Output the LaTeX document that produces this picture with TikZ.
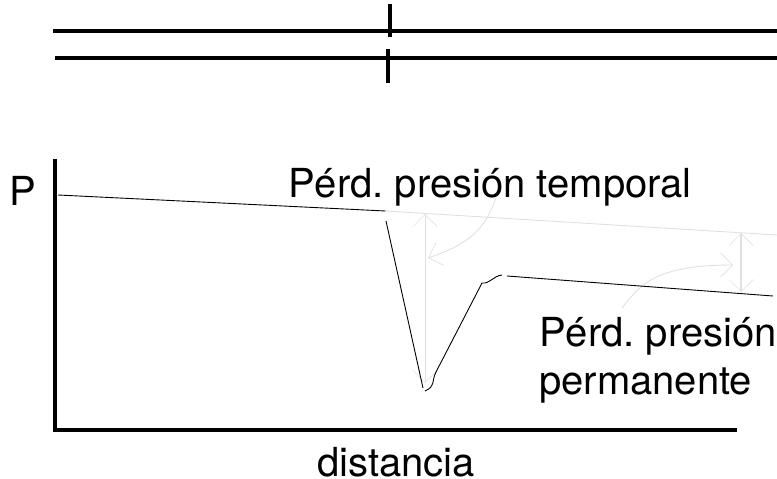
\documentclass[tikz,border=0pt]{standalone}
\usepackage{fontspec}
\setmainfont{TeX Gyre Heros}
\usetikzlibrary{arrows.meta,positioning}

\begin{document}
\frenchspacing
\begin{tikzpicture}[
  x=1pt,y=-1pt,
  >={Straight Barb[length=12pt,width=24pt,line width=0.7pt]},
  lbl/.style={font=\fontsize{40}{48}\selectfont,anchor=base west,inner sep=0pt},
  pipe/.style={line width=4pt,black},
  axs/.style={line width=4pt,black},
  curva/.style={line width=0.9pt,black},
  guia/.style={line width=0.9pt,black!12},
]
\useasboundingbox (0,0) rectangle (777,479);

% pipe walls and orifice plate
\coordinate (a1) at (53,31);  \coordinate (a2) at (777,31);
\coordinate (b1) at (55,58);  \coordinate (b2) at (777,58);
\coordinate (t1) at (390,4);  \coordinate (t2) at (390,37);
\coordinate (u1) at (388,49); \coordinate (u2) at (388,83);
\draw[pipe] (a1) -- (a2);
\draw[pipe] (b1) -- (b2);
\draw[pipe] (t1) -- (t2);
\draw[pipe] (u1) -- (u2);

% axes
\coordinate (o1) at (54.5,159); \coordinate (o2) at (54.5,430); \coordinate (o3) at (737,430);
\draw[axs] (o1) -- (o2) -- (o3);

% labels
\node[lbl] (lp) at (9,205) {P};
\node[lbl] (ltemp) at (288,197) {Pérd. presión temporal};
\node[lbl] (lperm1) at (539,346) {Pérd. presión};
\node[lbl] (lperm2) at (539,394) {permanente};
\node[lbl] (ldist) at (317,476) {distancia};

% extrapolated line, pressure drops and leader curves
\coordinate (c1) at (58,195);   \coordinate (c2) at (385.5,211); \coordinate (c3) at (777,235);
\coordinate (g1) at (425,214);  \coordinate (g2) at (425,383);
\coordinate (h1) at (741,233);  \coordinate (h2) at (741,292);
\coordinate (k1) at (496,198);  \coordinate (k2) at (428,258);
\coordinate (m1) at (622,308);  \coordinate (m2) at (733,265);
\draw[guia] (c2) -- (c3);
\draw[guia,<->] (g1) -- (g2);
\draw[guia,<->,line width=1.3pt] (h1) -- (h2);
\draw[guia,->] (k1) .. controls (485,228) and (472,243) .. (k2);
\draw[guia,->] (m1) .. controls (640,285) and (655,265) .. (m2);

% measured pressure along the pipe
\coordinate (d1) at (386,221); \coordinate (d2) at (423,388);
\coordinate (e1) at (425,391); \coordinate (e2) at (436,372);
\coordinate (e3) at (482,283); \coordinate (e4) at (502,275);
\coordinate (f1) at (507,276); \coordinate (f2) at (773,296);
\draw[curva] (c1) -- (c2);
\draw[curva] (d1) -- (d2);
\draw[curva] (e1) .. controls (436,386) and (431,382) .. (e2) -- (e3)
  .. controls (490,284) and (493,276) .. (e4);
\draw[curva] (f1) -- (f2);
\end{tikzpicture}
\end{document}
